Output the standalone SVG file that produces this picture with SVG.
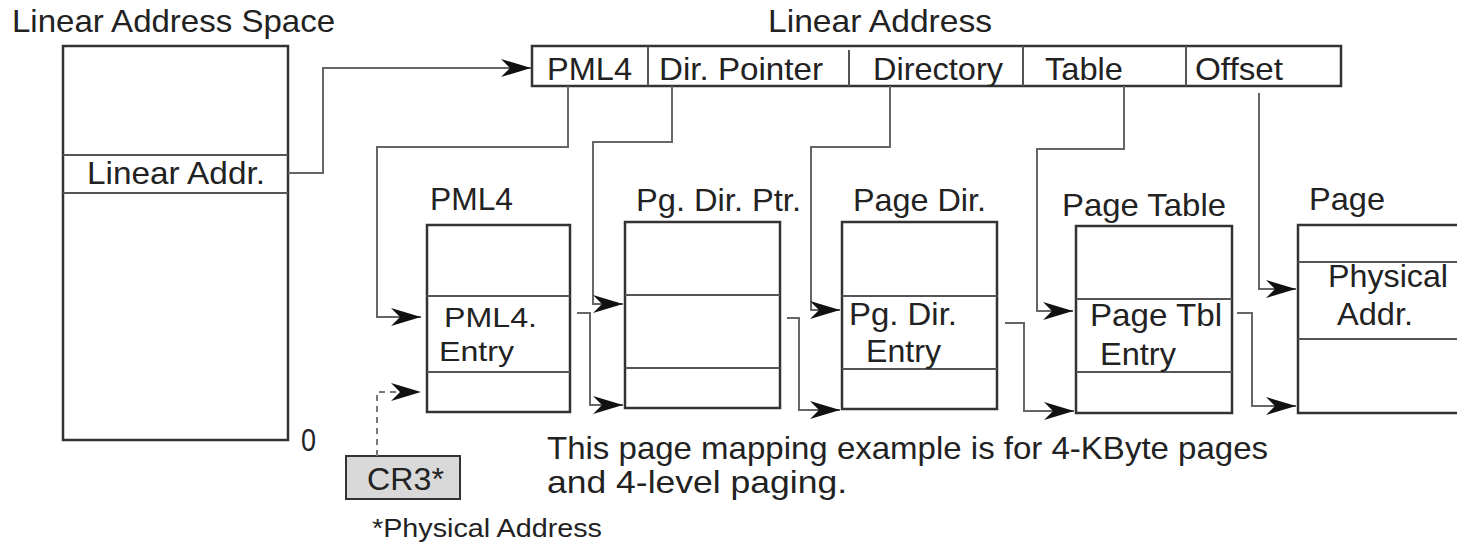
<svg xmlns="http://www.w3.org/2000/svg" width="1457" height="546" viewBox="0 0 1457 546">
<defs>
<style>
text{font-family:"Liberation Sans",Arial,Helvetica,sans-serif;font-size:31.5px;fill:#222;}
.small{font-size:26px;}
.tight{font-size:28.5px;}
.box{fill:#fff;stroke:#333;stroke-width:2.5;}
.div{stroke:#555;stroke-width:2;fill:none;}
.conn{stroke:#666;stroke-width:2;fill:none;marker-end:url(#arr);}
.dash{stroke:#777;stroke-width:2;fill:none;stroke-dasharray:6,5;marker-end:url(#arr);}
.cr3{fill:#d9d9d9;stroke:#333;stroke-width:2;}
</style>
<marker id="arr" markerUnits="userSpaceOnUse" markerWidth="32" markerHeight="18" refX="30" refY="9" orient="auto">
<path d="M0,0 L30,9 L0,18 L9,9 z" fill="#111"/>
</marker>
</defs>

<g id="linear-address-space">
<text x="12" y="32" textLength="323" lengthAdjust="spacingAndGlyphs">Linear Address Space</text>
<rect class="box" x="63" y="46" width="225" height="394"/>
<line class="div" x1="63" y1="155" x2="288" y2="155"/>
<line class="div" x1="63" y1="193" x2="288" y2="193"/>
<text x="87" y="184" textLength="178" lengthAdjust="spacingAndGlyphs">Linear Addr.</text>
<text x="301" y="451" textLength="15" lengthAdjust="spacingAndGlyphs">0</text>
</g>

<g id="linear-address">
<text x="768" y="32" textLength="224" lengthAdjust="spacingAndGlyphs">Linear Address</text>
<rect class="box" x="532" y="46" width="809" height="40"/>
<line class="div" x1="648" y1="46" x2="648" y2="86"/>
<line class="div" x1="849" y1="50" x2="849" y2="86"/>
<line class="div" x1="1023" y1="46" x2="1023" y2="86"/>
<line class="div" x1="1186" y1="46" x2="1186" y2="86"/>
<text x="547" y="80" textLength="85" lengthAdjust="spacingAndGlyphs">PML4</text>
<text x="659" y="80" textLength="164" lengthAdjust="spacingAndGlyphs">Dir. Pointer</text>
<text x="873" y="80" textLength="130" lengthAdjust="spacingAndGlyphs">Directory</text>
<text x="1045" y="80" textLength="78" lengthAdjust="spacingAndGlyphs">Table</text>
<text x="1195" y="80" textLength="88" lengthAdjust="spacingAndGlyphs">Offset</text>
</g>

<g id="pml4">
<text x="430" y="210" textLength="83" lengthAdjust="spacingAndGlyphs">PML4</text>
<rect class="box" x="427" y="225" width="143" height="187"/>
<line class="div" x1="427" y1="296" x2="570" y2="296"/>
<line class="div" x1="427" y1="372" x2="570" y2="372"/>
<text class="tight" x="444" y="327" textLength="93" lengthAdjust="spacingAndGlyphs">PML4.</text>
<text class="tight" x="439" y="361" textLength="75" lengthAdjust="spacingAndGlyphs">Entry</text>
</g>

<g id="pg-dir-ptr">
<text x="636" y="211" textLength="165" lengthAdjust="spacingAndGlyphs">Pg. Dir. Ptr.</text>
<rect class="box" x="625" y="222" width="155" height="186"/>
<line class="div" x1="625" y1="295" x2="780" y2="295"/>
<line class="div" x1="625" y1="368" x2="780" y2="368"/>
</g>

<g id="page-dir">
<text x="853" y="211" textLength="133" lengthAdjust="spacingAndGlyphs">Page Dir.</text>
<rect class="box" x="842" y="222" width="155" height="187"/>
<line class="div" x1="842" y1="296" x2="997" y2="296"/>
<line class="div" x1="842" y1="369" x2="997" y2="369"/>
<text x="849" y="325" textLength="108" lengthAdjust="spacingAndGlyphs">Pg. Dir.</text>
<text x="866" y="362" textLength="75" lengthAdjust="spacingAndGlyphs">Entry</text>
</g>

<g id="page-table">
<text x="1062" y="216" textLength="164" lengthAdjust="spacingAndGlyphs">Page Table</text>
<rect class="box" x="1076" y="226" width="156" height="187"/>
<line class="div" x1="1076" y1="299" x2="1232" y2="299"/>
<line class="div" x1="1076" y1="372" x2="1232" y2="372"/>
<text x="1090" y="326" textLength="132" lengthAdjust="spacingAndGlyphs">Page Tbl</text>
<text x="1100" y="365" textLength="76" lengthAdjust="spacingAndGlyphs">Entry</text>
</g>

<g id="page">
<text x="1309" y="210" textLength="76" lengthAdjust="spacingAndGlyphs">Page</text>
<rect class="box" x="1298" y="225" width="180" height="188"/>
<line class="div" x1="1298" y1="262" x2="1460" y2="262"/>
<line class="div" x1="1298" y1="339" x2="1460" y2="339"/>
<text x="1328" y="287" textLength="120" lengthAdjust="spacingAndGlyphs">Physical</text>
<text x="1337" y="325" textLength="76" lengthAdjust="spacingAndGlyphs">Addr.</text>
</g>

<g id="cr3">
<rect class="cr3" x="346" y="456" width="114" height="43"/>
<text x="367" y="490" textLength="77" lengthAdjust="spacingAndGlyphs">CR3*</text>
<text class="small" x="372" y="537" textLength="230" lengthAdjust="spacingAndGlyphs">*Physical Address</text>
</g>

<g id="note">
<text x="547" y="459" textLength="721" lengthAdjust="spacingAndGlyphs">This page mapping example is for 4-KByte pages</text>
<text x="547" y="493" textLength="300" lengthAdjust="spacingAndGlyphs">and 4-level paging.</text>
</g>

<g id="connectors">
<path class="conn" d="M288,173 H323 V68 H531"/>
<path class="conn" d="M568,86 V147 H377 V317 H421"/>
<path class="conn" d="M672,86 V142 H593 V304 H623"/>
<path class="conn" d="M890,86 V147 H811 V310 H840"/>
<path class="conn" d="M1124,86 V149 H1037 V311 H1073"/>
<path class="conn" d="M1259,93 V289 H1296"/>
<path class="conn" d="M577,313 H590 V405 H623"/>
<path class="conn" d="M787,318 H799 V410 H840"/>
<path class="conn" d="M1005,323 H1024 V411 H1074"/>
<path class="conn" d="M1237,313 H1252 V406 H1296"/>
<path class="dash" d="M377,456 V392 H421"/>
</g>
</svg>
